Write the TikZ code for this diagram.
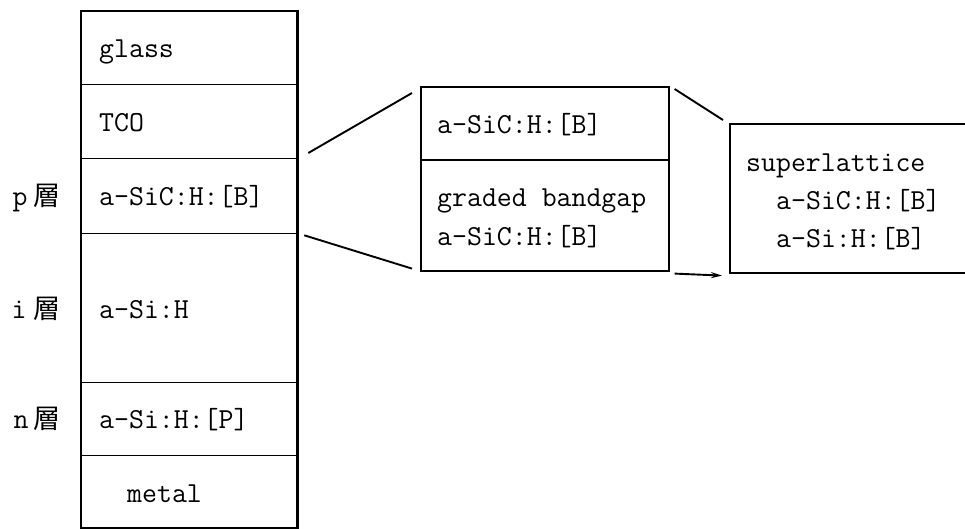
\documentclass[tikz,border=0pt]{standalone}
\usepackage{fontspec}
\newfontfamily\jpfont{Noto Sans CJK JP}
\usetikzlibrary{arrows.meta}
\begin{document}
\begin{tikzpicture}[x=1pt,y=-1pt,
  txt/.style={font=\fontsize{29}{31}\selectfont\ttfamily, inner sep=0pt, anchor=base west},
  let/.style={font=\fontsize{29}{31}\selectfont\ttfamily, inner sep=0pt, anchor=base},
  kanji/.style={font=\fontsize{27}{30}\selectfont\jpfont, inner sep=0pt, anchor=base west},
  cell/.style={draw, line width=1.3pt, inner sep=0pt, anchor=north west, minimum width=215pt},
  mcell/.style={draw, line width=1.6pt, inner sep=0pt, anchor=north west, minimum width=248pt},
  conn/.style={line width=1.9pt},
]
\useasboundingbox (0,0) rectangle (965,529);
\clip (0,0) rectangle (965,529);
% left stack
\node[cell, minimum height=73pt] (glass) at (81,11) {};
\node[cell, minimum height=74pt] (tco) at (81,84) {};
\node[cell, minimum height=75pt] (p) at (81,158) {};
\node[cell, minimum height=149pt] (i) at (81,233) {};
\node[cell, minimum height=73pt] (n) at (81,382) {};
\node[cell, minimum height=72pt] (metal) at (81,455) {};
\draw[line width=2.6pt] (glass.north west) rectangle (metal.south east);
\node[txt] (tglass) at (99,58) {glass};
\node[txt] (ttco) at (99,132) {TCO};
\node[txt] (tp) at (99,206) {a-SiC:H:[B]};
\node[txt] (ti) at (99,318) {a-Si:H};
\node[txt] (tn) at (99,428) {a-Si:H:[P]};
\node[txt] (tmetal) at (127,502) {metal};
% layer labels
\node[let] (lp) at (20,206) {p};
\node[kanji] (kp) at (33,206) {層};
\node[let] (li) at (19,318) {i};
\node[kanji] (ki) at (33,318) {層};
\node[let] (ln) at (21,428) {n};
\node[kanji] (kn) at (33,428) {層};
% middle box
\node[mcell, minimum height=73pt] (mtop) at (420,86) {};
\node[mcell, minimum height=111pt] (mbot) at (420,159) {};
\node[txt] (tm1) at (437,134) {a-SiC:H:[B]};
\node[txt] (tm2) at (437,207) {graded bandgap};
\node[txt] (tm3) at (437,245) {a-SiC:H:[B]};
% right box
\node[mcell, minimum width=260pt, minimum height=149pt] (rbox) at (729,123) {};
\node[txt] (tr1) at (746,172) {superlattice};
\node[txt] (tr2) at (776,210) {a-SiC:H:[B]};
\node[txt] (tr3) at (776,247) {a-Si:H:[B]};
% connectors
\draw[conn] ([xshift=11pt,yshift=5pt]p.north east) -- ([xshift=-8pt,yshift=-7pt]mtop.north west);
\draw[conn] ([xshift=7pt,yshift=-1pt]p.south east) -- ([xshift=-8pt,yshift=3pt]mbot.south west);
\draw[conn] ([xshift=5pt,yshift=-3pt]mtop.north east) -- ([xshift=-6pt,yshift=3pt]rbox.north west);
\draw[conn, -{Stealth[length=11pt,width=6pt]}] ([xshift=5pt,yshift=-2pt]mbot.south east) -- ([xshift=-7pt,yshift=-2pt]rbox.south west);
\end{tikzpicture}
\end{document}
